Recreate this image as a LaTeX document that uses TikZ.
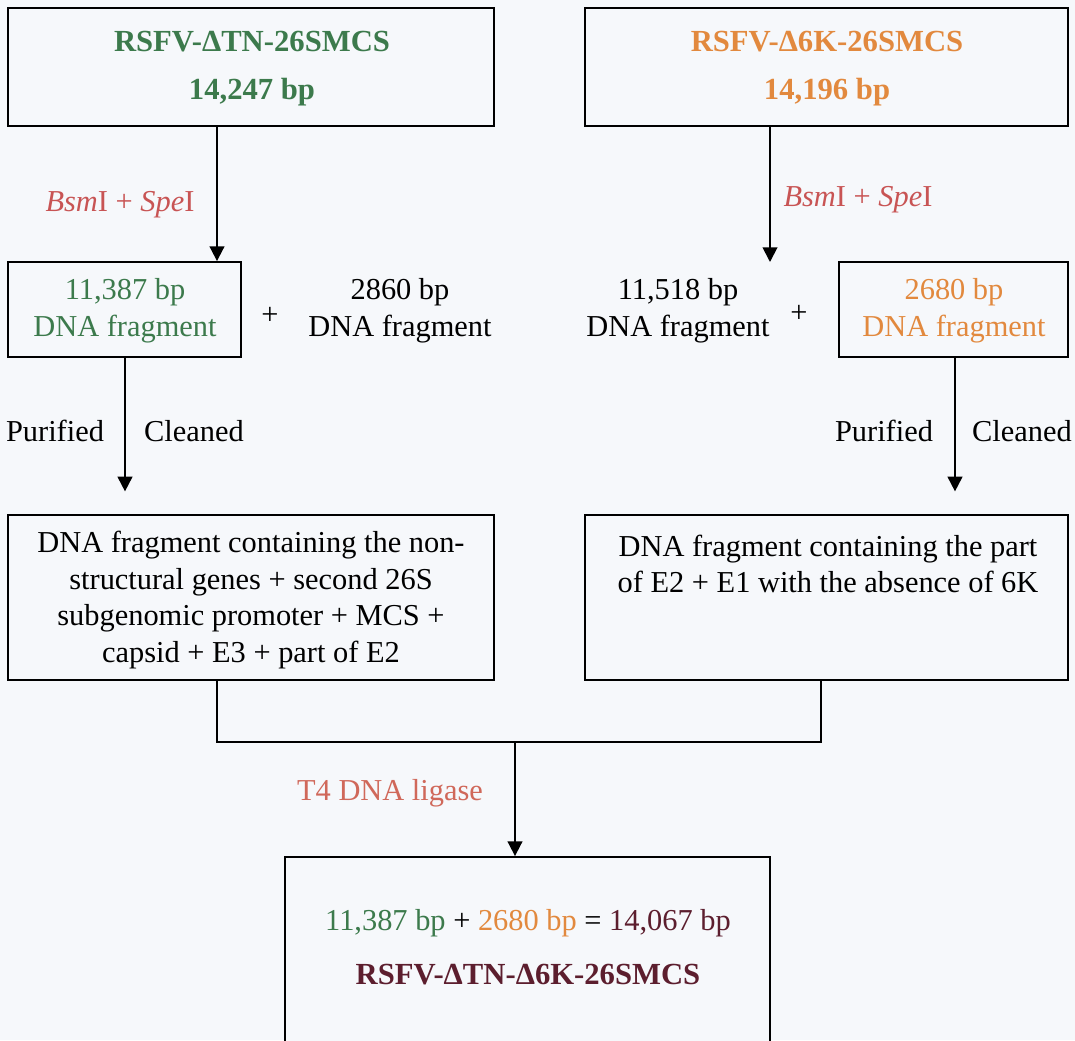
\documentclass[tikz,border=0pt]{standalone}
\usepackage{fontspec}
\setmainfont{Liberation Serif}
\usetikzlibrary{arrows.meta}
\definecolor{bg}{RGB}{246,248,251}
\definecolor{gr}{RGB}{60,122,76}
\definecolor{orn}{RGB}{226,137,62}
\definecolor{enz}{RGB}{200,84,84}
\definecolor{lig}{RGB}{208,104,90}
\definecolor{mar}{RGB}{92,30,46}
\tikzset{
  box/.style={draw=black, line width=1.4pt, fill=bg, inner sep=0pt},
  txt/.style={align=center, inner sep=0pt, font=\fontsize{22.8pt}{27.5pt}\selectfont},
  ttl/.style={align=center, inner sep=0pt, font=\fontsize{23pt}{36pt}\selectfont\bfseries},
  arr/.style={line width=1.4pt, -{Triangle[width=11pt,length=11pt]}},
  ln/.style={line width=1.4pt}
}
\begin{document}
\begin{tikzpicture}[x=0.75pt,y=-0.75pt]
\useasboundingbox (0,0) rectangle (1075,1040);
\fill[bg] (0,0) rectangle (1075,1040);
% boxes
\node[box, minimum width=364.5pt, minimum height=88.5pt] (A) at (251,67) {};
\node[box, minimum width=362.25pt, minimum height=88.5pt] (B) at (826.5,67) {};
\node[box, minimum width=174.75pt, minimum height=71.25pt] (C) at (124.5,309.5) {};
\node[box, minimum width=171.75pt, minimum height=71.25pt] (D) at (953.5,309.5) {};
\node[box, minimum width=364.5pt, minimum height=123.75pt] (E) at (251,597.5) {};
\node[box, minimum width=362.25pt, minimum height=123.75pt] (F) at (826.5,597.5) {};
\node[box, minimum width=363.75pt, minimum height=144.75pt] (G) at (527.5,953.5) {};
% texts
\node[ttl, text=gr] (At) at (252,69) {RSFV-ΔTN-26SMCS\\14,247 bp};
\node[ttl, text=orn] (Bt) at (827,69) {RSFV-Δ6K-26SMCS\\14,196 bp};
\node[txt, text=gr] (Ct) at (125,311) {11,387 bp\\DNA fragment};
\node[txt, text=orn] (Dt) at (954,311) {2680 bp\\DNA fragment};
\node[txt] (H1) at (400,311) {2860 bp\\DNA fragment};
\node[txt] (H2) at (678,311) {11,518 bp\\DNA fragment};
\node[txt] (p1) at (270,316) {+};
\node[txt] (p2) at (799,314) {+};
\node[txt] (Et) at (251,600) {DNA fragment containing the non-\\structural genes + second 26S\\subgenomic promoter + MCS +\\capsid + E3 + part of E2};
\node[txt] (Ft) at (828,564) {DNA fragment containing the part\\of E2 + E1 with the absence of 6K};
\node[txt] (Gt1) at (528,923) {\textcolor{gr}{11,387 bp} + \textcolor{orn}{2680 bp} = \textcolor{mar}{14,067 bp}};
\node[ttl, text=mar] (Gt2) at (528,975) {RSFV-ΔTN-Δ6K-26SMCS};
% labels
\node[txt, text=enz] (e1) at (120,205) {\textit{Bsm}I + \textit{Spe}I};
\node[txt, text=enz] (e2) at (858,200) {\textit{Bsm}I + \textit{Spe}I};
\node[txt] (pu1) at (55,431) {Purified};
\node[txt] (cl1) at (194,431) {Cleaned};
\node[txt] (pu2) at (884,431) {Purified};
\node[txt] (cl2) at (1022,431) {Cleaned};
\node[txt, text=lig] (t4) at (390,793) {T4 DNA ligase};
% connectors
\coordinate (bt) at (770,262);
\coordinate (j) at (515,742);
\draw[arr] (217,0 |- A.south) -- (217,0 |- C.north);
\draw[arr] (770,0 |- B.south) -- (bt);
\draw[arr, shorten >=17pt] (125,0 |- C.south) -- (125,0 |- E.north);
\draw[arr, shorten >=17pt] (955,0 |- D.south) -- (955,0 |- F.north);
\draw[ln] (217,0 |- E.south) -- (217,742) -- (821,742) -- (821,0 |- F.south);
\draw[arr] (j) -- (515,0 |- G.north);
\end{tikzpicture}
\end{document}
